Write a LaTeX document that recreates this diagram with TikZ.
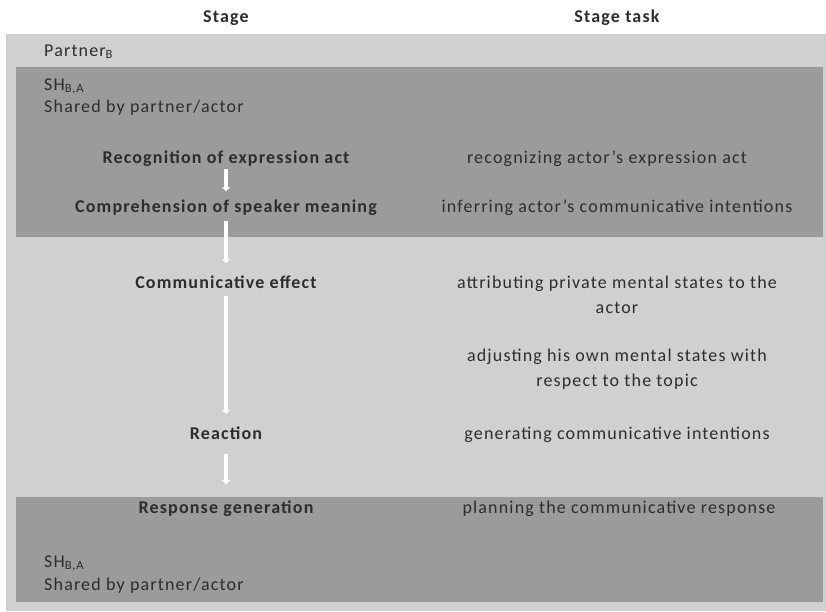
\documentclass[tikz,border=0pt]{standalone}
\usepackage{fontspec}
\setmainfont[LetterSpace=6.5]{Carlito}
\usetikzlibrary{arrows.meta}
\definecolor{lightbg}{RGB}{208,208,208}
\definecolor{darkbg}{RGB}{155,155,155}
\definecolor{txt}{RGB}{45,45,45}
\tikzset{
  every node/.style={text=txt, font=\fontsize{18}{20}\selectfont, inner sep=0pt},
  stagenode/.style={font=\fontsize{18}{20}\selectfont\bfseries, anchor=base},
  tasknode/.style={align=center, anchor=base},
  leftnote/.style={anchor=base west, align=left},
  flow/.style={draw=white, line width=3.5pt, -{Triangle[width=8pt,length=4pt]}},
}
\begin{document}
\begin{tikzpicture}[x=1pt,y=-1pt]
\useasboundingbox (0,0) rectangle (826,611);
\fill[white] (0,0) rectangle (826,611);
\fill[lightbg] (6,34) rectangle (826,611);
\fill[darkbg] (16,67) rectangle (823,237);
\fill[darkbg] (16,497) rectangle (823,602);

\node[stagenode] (h1) at (226,22) {Stage};
\node[stagenode] (h2) at (617,22) {Stage task};

\node[leftnote] (partner) at (44,56) {Partner\textsubscript{B}};
\node[leftnote] (sh1) at (44,90) {SH\textsubscript{B,A}};
\node[leftnote] (shared1) at (44,112) {Shared by partner/actor};

\node[stagenode] (rec) at (226,163) {Recognition of expression act};
\node[stagenode] (comp) at (226,212) {Comprehension of speaker meaning};
\node[stagenode] (eff) at (226,288) {Communicative effect};
\node[stagenode] (react) at (226,439) {Reaction};
\node[stagenode] (resp) at (226,513) {Response generation};

\node[tasknode] (t1) at (607,163) {recognizing actor’s expression act};
\node[tasknode] (t2) at (617,212) {inferring actor’s communicative intentions};
\node[tasknode] (t3) at (617,313) {attributing private mental states to the\\[5pt]actor};
\node[tasknode] (t4) at (617,386) {adjusting his own mental states with\\[5pt]respect to the topic};
\node[tasknode] (t5) at (617,439) {generating communicative intentions};
\node[tasknode] (t6) at (619,513) {planning the communicative response};

\node[leftnote] (sh2) at (44,567) {SH\textsubscript{B,A}};
\node[leftnote] (shared2) at (44,590) {Shared by partner/actor};

\draw[flow, shorten <=3pt, shorten >=8pt] (rec.south) -- (comp.north);
\draw[flow, shorten <=6pt, shorten >=12pt] (comp.south) -- (eff.north);
\draw[flow, shorten <=8pt, shorten >=12pt] (eff.south) -- (react.north);
\draw[flow, shorten <=15pt, shorten >=16pt] (react.south) -- (resp.north);
\end{tikzpicture}
\end{document}
